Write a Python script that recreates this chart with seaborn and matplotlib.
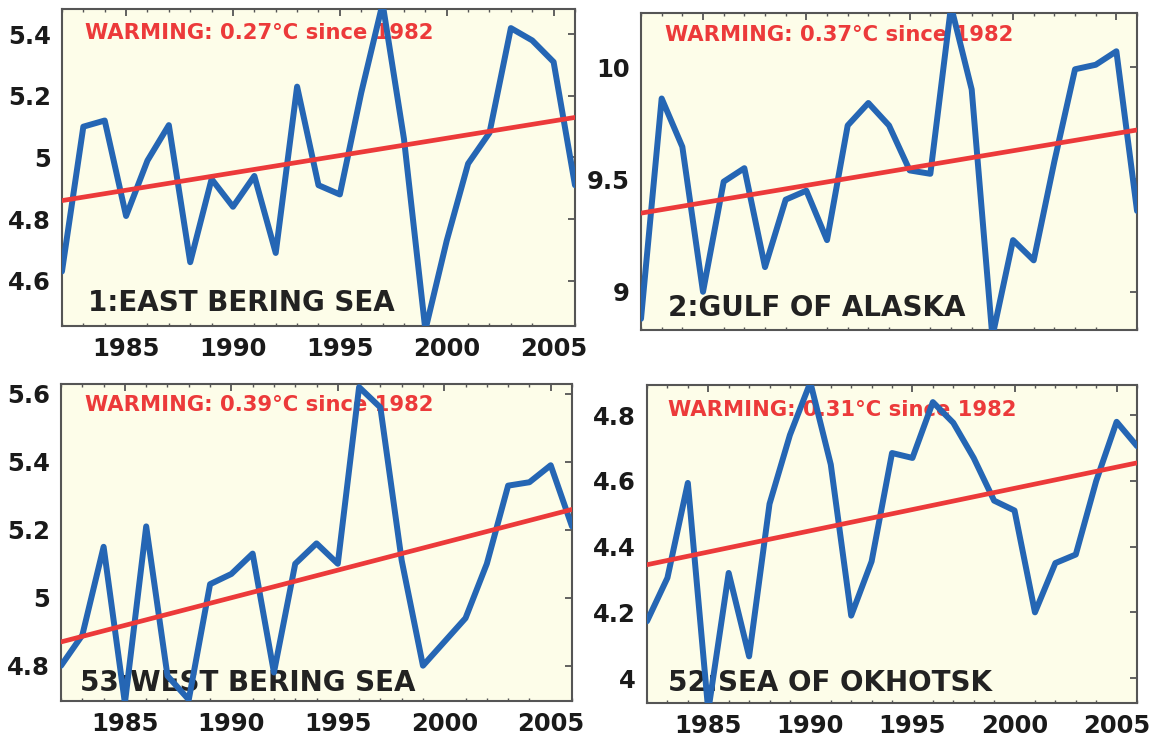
import numpy as np
import pandas as pd
import matplotlib
matplotlib.use("Agg")
import matplotlib.pyplot as plt
import seaborn as sns
from matplotlib.ticker import FormatStrFormatter, MultipleLocator

sns.set_theme(style="white")
plt.rcParams["font.family"] = ["DejaVu Sans"]

years = list(range(1982, 2007))

east_bering = [4.63, 5.10, 5.12, 4.81, 4.99, 5.105, 4.66, 4.93, 4.84, 4.94,
               4.69, 5.23, 4.91, 4.88, 5.21, 5.50, 5.06, 4.44, 4.73, 4.98,
               5.08, 5.42, 5.38, 5.31, 4.91]
gulf_alaska = [8.88, 9.86, 9.645, 9.00, 9.49, 9.55, 9.11, 9.41, 9.45, 9.23,
               9.74, 9.84, 9.74, 9.54, 9.525, 10.27, 9.90, 8.80, 9.23, 9.14,
               9.58, 9.99, 10.01, 10.07, 9.36]
west_bering = [4.80, 4.89, 5.15, 4.69, 5.21, 4.77, 4.70, 5.04, 5.07, 5.13,
               4.78, 5.10, 5.16, 5.10, 5.62, 5.56, 5.11, 4.80, 4.87, 4.94,
               5.10, 5.33, 5.34, 5.39, 5.21]
okhotsk = [4.173, 4.305, 4.594, 3.90, 4.32, 4.066, 4.53, 4.74, 4.90, 4.65,
           4.19, 4.355, 4.685, 4.67, 4.84, 4.777, 4.67, 4.54, 4.51, 4.20,
           4.35, 4.376, 4.60, 4.78, 4.706]

region_names = ["1:EAST BERING SEA", "2:GULF OF ALASKA",
                "53:WEST BERING SEA", "52:SEA OF OKHOTSK"]
series = [east_bering, gulf_alaska, west_bering, okhotsk]
trend_start = [4.86, 9.35, 4.87, 4.345]
warming = [0.27, 0.37, 0.39, 0.31]
y_limits = [(4.453, 5.482), (8.83, 10.24), (4.696, 5.629), (3.924, 4.892)]
y_ticks = [[4.6, 4.8, 5.0, 5.2, 5.4], [9.0, 9.5, 10.0],
           [4.8, 5.0, 5.2, 5.4, 5.6], [4.0, 4.2, 4.4, 4.6, 4.8]]
x_ticks = [1985, 1990, 1995, 2000, 2005]

# panel rectangles in figure fractions: left, bottom, width, height
rects = [(0.0536, 0.5583, 0.4438, 0.4295),
         (0.5545, 0.5528, 0.4291, 0.4295),
         (0.0528, 0.0501, 0.4420, 0.4295),
         (0.5597, 0.0474, 0.4239, 0.4309)]
show_xlabels = [True, False, True, True]
title_pos = [(0.045, 0.924), (0.048, 0.930), (0.047, 0.934), (0.043, 0.920)]
name_pos = [(0.050, 0.073), (0.054, 0.069), (0.037, 0.057), (0.043, 0.063)]

blue = "#2566b4"
red = "#ec3a3a"
panel_bg = "#fdfde9"
frame = "#555555"

fig = plt.figure(figsize=(11.56, 7.38), dpi=100)
fig.patch.set_facecolor("white")

for i in range(4):
    ax = fig.add_axes(rects[i])
    ax.set_facecolor(panel_bg)
    df = pd.DataFrame({"year": years, "sst": series[i]})
    sns.lineplot(data=df, x="year", y="sst", ax=ax, color=blue,
                 linewidth=4.3, zorder=3)
    trend = pd.DataFrame({"year": [years[0], years[-1]],
                          "sst": [trend_start[i], trend_start[i] + warming[i]]})
    sns.lineplot(data=trend, x="year", y="sst", ax=ax, color=red,
                 linewidth=3.4, zorder=4)

    ax.set_xlim(years[0], years[-1])
    ax.set_ylim(*y_limits[i])
    ax.set_xticks(x_ticks)
    ax.set_yticks(y_ticks[i])
    ax.xaxis.set_minor_locator(MultipleLocator(1))
    ax.yaxis.set_major_formatter(FormatStrFormatter("%g"))
    ax.set_xlabel("")
    ax.set_ylabel("")
    ax.tick_params(axis="both", which="major", direction="in", length=5,
                   width=1.3, color=frame, top=True, right=True,
                   labelsize=17.5, labelcolor="#1a1a1a", pad=8)
    ax.tick_params(axis="x", which="minor", direction="in", length=2.5,
                   width=1.0, color=frame, top=True, bottom=True)
    for lab in ax.get_xticklabels() + ax.get_yticklabels():
        lab.set_fontweight("bold")
    if not show_xlabels[i]:
        ax.tick_params(axis="x", labelbottom=False)
    for sp in ax.spines.values():
        sp.set_color(frame)
        sp.set_linewidth(1.5)

    ax.text(title_pos[i][0], title_pos[i][1],
            f"WARMING: {warming[i]:.2f}\u00b0C since 1982",
            transform=ax.transAxes, ha="left", va="center", color=red,
            fontsize=15.2, fontweight="bold", zorder=2)
    ax.text(name_pos[i][0], name_pos[i][1], region_names[i],
            transform=ax.transAxes, ha="left", va="center", color="#222222",
            fontsize=20, fontweight="bold", zorder=2)

fig.savefig("out.png", dpi=100, facecolor="white")
